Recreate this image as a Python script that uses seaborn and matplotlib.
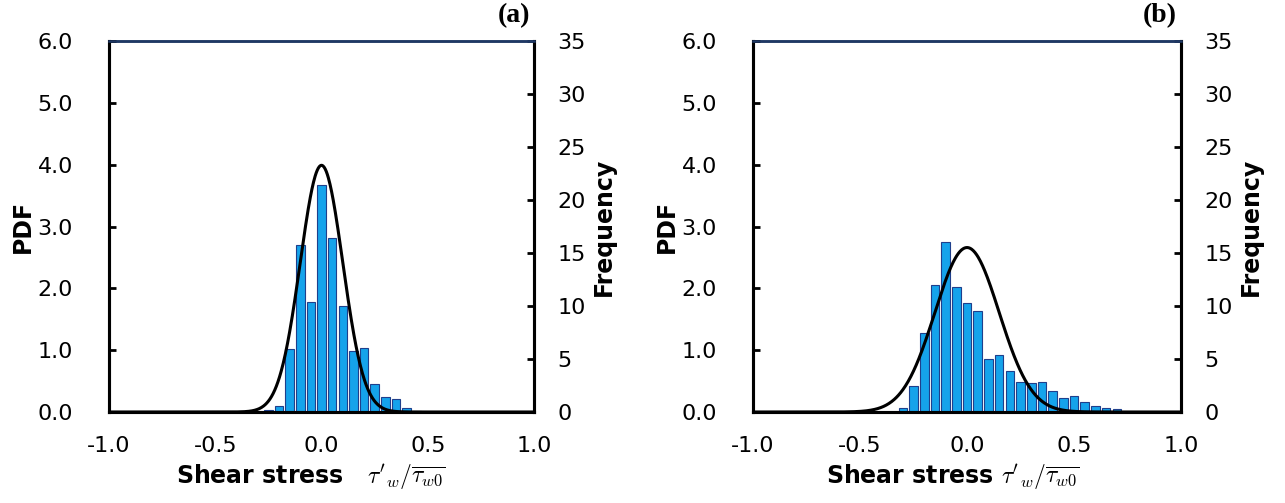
import numpy as np
import pandas as pd
import matplotlib
matplotlib.use("Agg")
import matplotlib.pyplot as plt
import seaborn as sns

sns.set_style("white")
plt.rcParams['font.family'] = ['DejaVu Sans']
plt.rcParams['mathtext.fontset'] = 'cm'
for key in ('text.color', 'axes.labelcolor', 'xtick.color', 'ytick.color'):
    plt.rcParams[key] = 'black'

# --- veri: histogram (frekans, %) ve normal dağılım parametreleri ---
centers_a = [-0.25, -0.20, -0.15, -0.10, -0.05, 0.00, 0.05, 0.10, 0.15, 0.20,
             0.25, 0.30, 0.35, 0.40, 0.45]
freq_a = [0.2, 0.6, 5.9, 15.8, 10.4, 21.4, 16.4, 10.0, 5.8, 6.0,
          2.6, 1.4, 1.2, 0.4, 0.1]

centers_b = [-0.30, -0.25, -0.20, -0.15, -0.10, -0.05, 0.00, 0.05, 0.10, 0.15,
             0.20, 0.25, 0.30, 0.35, 0.40, 0.45, 0.50, 0.55, 0.60, 0.65, 0.70]
freq_b = [0.35, 2.5, 7.5, 12.0, 16.0, 11.8, 10.3, 9.55, 5.0, 5.4,
          3.9, 2.8, 2.7, 2.8, 2.0, 1.3, 1.5, 0.9, 0.6, 0.35, 0.25]

mu_a, sigma_a = 0.0, 0.10
mu_b, sigma_b = 0.0, 0.15

panel_labels = ['(a)', '(b)']
x_ticks = [-1.0, -0.5, 0.0, 0.5, 1.0]
pdf_ticks = [0, 1, 2, 3, 4, 5, 6]
freq_ticks = [0, 5, 10, 15, 20, 25, 30, 35]

BAR_FILL = '#15A3EB'
BAR_EDGE = '#1F3F8C'
BIN_W = 0.05

fig = plt.figure(figsize=(12.85, 5.03), dpi=100)
positions = [[0.0848, 0.1809, 0.3308, 0.7376],
             [0.5860, 0.1809, 0.3331, 0.7376]]
xlabels = [r"Shear stress   $\tau'_{w}/\overline{\tau_{w0}}$",
           r"Shear stress $\tau'_{w}/\overline{\tau_{w0}}$"]
xlabel_x = [0.475, 0.467]

panels = [(centers_a, freq_a, mu_a, sigma_a), (centers_b, freq_b, mu_b, sigma_b)]

for i, (centers, freq, mu, sigma) in enumerate(panels):
    ax = fig.add_axes(positions[i])
    ax2 = ax.twinx()

    # histogram çubukları sağ eksende (Frequency)
    df = pd.DataFrame({'x': centers, 'f': freq})
    lo = centers[0] - BIN_W / 2
    hi = centers[-1] + BIN_W / 2
    sns.histplot(data=df, x='x', weights='f', binwidth=BIN_W, binrange=(lo, hi),
                 shrink=0.8, color=BAR_FILL, edgecolor=BAR_EDGE, linewidth=0.8,
                 alpha=1.0, ax=ax2)

    # normal dağılım eğrisi sol eksende (PDF)
    xs = np.linspace(-1.0, 1.0, 801)
    pdf = np.exp(-0.5 * ((xs - mu) / sigma) ** 2) / (sigma * np.sqrt(2 * np.pi))
    sns.lineplot(x=xs, y=pdf, color='black', linewidth=2.2, ax=ax)

    ax.set_zorder(ax2.get_zorder() + 1)
    ax.patch.set_visible(False)

    ax.set_xlim(-1.0, 1.0)
    ax.set_ylim(0, 6)
    ax2.set_ylim(0, 35)
    ax.set_xticks(x_ticks)
    ax.set_xticklabels([f'{t:.1f}' for t in x_ticks])
    ax.set_yticks(pdf_ticks)
    ax.set_yticklabels([f'{t:.1f}' for t in pdf_ticks])
    ax2.set_yticks(freq_ticks)
    ax2.set_yticklabels([str(t) for t in freq_ticks])

    ax.tick_params(axis='x', direction='in', length=5, width=2,
                   labelsize=16, pad=17)
    ax.tick_params(axis='y', direction='in', length=5, width=2,
                   labelsize=16, pad=26)
    ax2.tick_params(axis='y', direction='in', length=5, width=2,
                    labelsize=16, pad=17)

    for a in (ax, ax2):
        for side in ('left', 'right', 'bottom'):
            a.spines[side].set_color('black')
            a.spines[side].set_linewidth(2.2)
        a.spines['top'].set_color('#1F3864')
        a.spines['top'].set_linewidth(1.8)

    ax.set_ylabel('PDF', fontsize=17, fontweight='bold')
    ax.yaxis.set_label_coords(-0.174, 0.5)
    ax2.set_ylabel('Frequency', fontsize=17, fontweight='bold')
    ax2.yaxis.set_label_coords(1.136, 0.5)
    ax.set_xlabel(xlabels[i], fontsize=17, fontweight='bold')
    ax.xaxis.set_label_coords(xlabel_x[i], -0.135)

    ax.text(0.99, 1.035, panel_labels[i], transform=ax.transAxes,
            ha='right', va='bottom', fontsize=20, fontweight='bold',
            family='Liberation Serif')

fig.savefig('out.png', dpi=100)
